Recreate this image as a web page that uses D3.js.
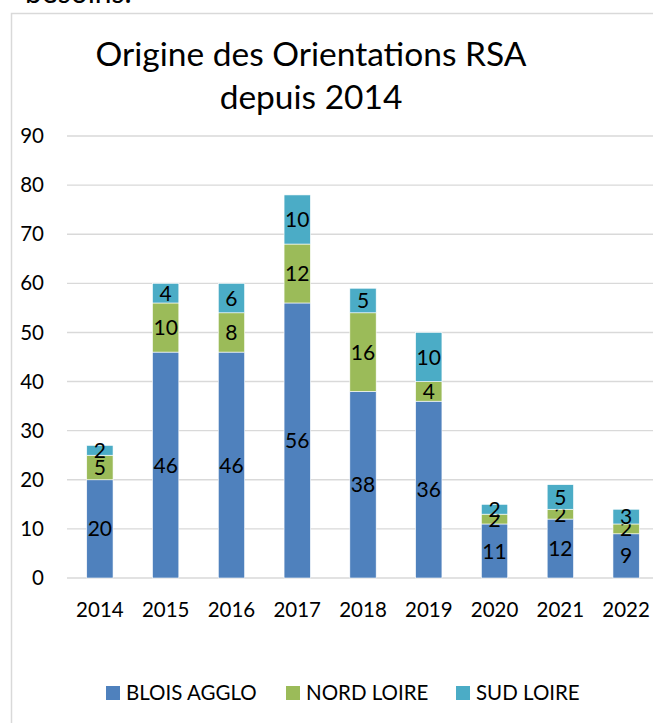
<!DOCTYPE html>
<html>
<head>
<meta charset="utf-8">
<script src="https://cdn.jsdelivr.net/npm/d3@7"></script>
<style>
  body { margin: 0; background: #fff; }
  svg { display: block; font-family: Lato, "Noto Sans", sans-serif; }
</style>
</head>
<body>
<svg id="chart"></svg>
<script>
  const years = ["2014", "2015", "2016", "2017", "2018", "2019", "2020", "2021", "2022"];
  const bloisAgglo = [20, 46, 46, 56, 38, 36, 11, 12, 9];
  const nordLoire = [5, 10, 8, 12, 16, 4, 2, 2, 2];
  const sudLoire = [2, 4, 6, 10, 5, 10, 2, 5, 3];
  const seriesNames = ["BLOIS AGGLO", "NORD LOIRE", "SUD LOIRE"];
  const colors = ["#4f81bd", "#9bbb59", "#4bacc6"];
  const yTicks = [0, 10, 20, 30, 40, 50, 60, 70, 80, 90];

  const W = 653, H = 723;
  const svg = d3.select("#chart").attr("width", W).attr("height", H);

  // texte du document au-dessus (coupé)
  svg.append("text")
    .attr("x", 25).attr("y", 3)
    .attr("font-size", 30)
    .attr("fill", "#000")
    .text("besoins.");

  // cadre du graphique
  svg.append("rect")
    .attr("x", 11.5).attr("y", 13.5)
    .attr("width", 700).attr("height", 800)
    .attr("fill", "#fff")
    .attr("stroke", "#d9d9d9")
    .attr("stroke-width", 1.5);

  // titre
  const title = svg.append("text")
    .attr("text-anchor", "middle")
    .attr("font-size", 33.5)
    .attr("fill", "#000");
  title.append("tspan").attr("x", 311).attr("y", 66).text("Origine des Orientations RSA");
  title.append("tspan").attr("x", 311).attr("y", 109).text("depuis 2014");

  const x = d3.scaleBand().domain(years).range([67, 659]).padding(0);
  const y = d3.scaleLinear().domain([0, 90]).range([578, 136]);
  const barW = x.bandwidth() * 0.4;

  // grille
  svg.append("g")
    .selectAll("line")
    .data(yTicks)
    .join("line")
    .attr("x1", 67).attr("x2", 659)
    .attr("y1", d => y(d)).attr("y2", d => y(d))
    .attr("stroke", "#d9d9d9")
    .attr("stroke-width", 1.4);

  // axe Y
  const yAxis = svg.append("g")
    .attr("transform", "translate(44,0)")
    .call(d3.axisLeft(y).tickValues(yTicks).tickSize(0).tickPadding(0));
  yAxis.select(".domain").remove();
  yAxis.selectAll("text")
    .attr("font-family", "Lato, 'Noto Sans', sans-serif")
    .attr("font-size", 20.5)
    .attr("fill", "#000");

  // axe X
  const xAxis = svg.append("g")
    .attr("transform", "translate(0,578)")
    .call(d3.axisBottom(x).tickSize(0).tickPadding(0));
  xAxis.select(".domain").remove();
  xAxis.selectAll("text")
    .attr("font-family", "Lato, 'Noto Sans', sans-serif")
    .attr("font-size", 20.5)
    .attr("fill", "#000")
    .attr("dy", null)
    .attr("y", 39);

  // empilement
  const rows = years.map((yr, i) => ({
    year: yr,
    "BLOIS AGGLO": bloisAgglo[i],
    "NORD LOIRE": nordLoire[i],
    "SUD LOIRE": sudLoire[i]
  }));
  const stacked = d3.stack().keys(seriesNames)(rows);

  const layers = svg.append("g")
    .selectAll("g")
    .data(stacked)
    .join("g")
    .attr("fill", (d, i) => colors[i]);

  layers.selectAll("rect")
    .data(d => d)
    .join("rect")
    .attr("x", d => x(d.data.year) + (x.bandwidth() - barW) / 2)
    .attr("y", d => y(d[1]))
    .attr("width", barW)
    .attr("height", d => y(d[0]) - y(d[1]))
    .attr("stroke", "#fff")
    .attr("stroke-width", 0.6);

  layers.selectAll("text")
    .data(d => d)
    .join("text")
    .attr("x", d => x(d.data.year) + x.bandwidth() / 2)
    .attr("y", d => (y(d[0]) + y(d[1])) / 2)
    .attr("dy", "0.36em")
    .attr("text-anchor", "middle")
    .attr("font-size", 21)
    .attr("fill", "#000")
    .text(d => d[1] - d[0]);

  // légende
  const legendX = [106, 286, 456];
  const legend = svg.append("g")
    .selectAll("g")
    .data(seriesNames)
    .join("g")
    .attr("transform", (d, i) => `translate(${legendX[i]},686)`);
  legend.append("rect")
    .attr("width", 14).attr("height", 14)
    .attr("fill", (d, i) => colors[i]);
  legend.append("text")
    .attr("x", 20).attr("y", 14)
    .attr("font-size", 20.5)
    .attr("fill", "#000")
    .text(d => d);
</script>
</body>
</html>
